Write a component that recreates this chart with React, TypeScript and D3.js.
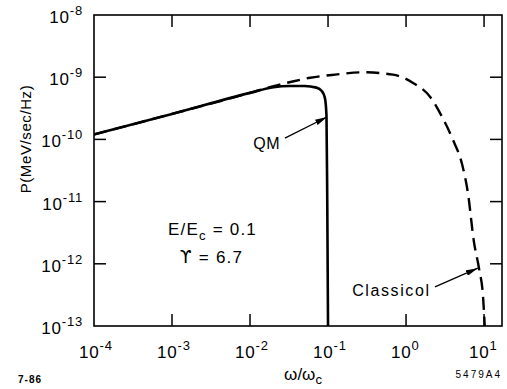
import React from 'react'
import * as d3 from 'd3'

// QM spectrum (solid)
const qmOmega = [1e-4, 1e-3, 1e-2, 0.02, 0.032, 0.05, 0.071, 0.083, 0.091, 0.0955, 0.0977, 0.1]
const qmPower = [1.2e-10, 2.57e-10, 5.6e-10, 6.9e-10, 7.2e-10, 7.2e-10, 6.8e-10, 6.0e-10, 4.7e-10, 2.45e-10, 1.07e-11, 1e-13]

// Classical spectrum (dashed)
const clOmega = [1e-4, 1e-3, 1e-2, 0.02, 0.032, 0.059, 0.123, 0.28, 0.68, 1.23, 2.04, 2.95, 4.0, 5.25, 6.2, 7.4, 8.6, 9.7, 10.2]
const clPower = [1.2e-10, 2.57e-10, 5.6e-10, 7.2e-10, 8.3e-10, 9.8e-10, 1.1e-9, 1.2e-9, 1.1e-9, 8.1e-10, 4.8e-10, 2.2e-10, 9.8e-11, 3.9e-11, 1.4e-11, 2.3e-12, 8.5e-13, 3.0e-13, 1.0e-13]

// decade ticks
const xTickExp = [-4, -3, -2, -1, 0, 1]
const yTickExp = [-8, -9, -10, -11, -12, -13]

const W = 507
const H = 389
const left = 94
const right = 502
const top = 15
const bottom = 326

const font = '"Liberation Sans", Arial, sans-serif'

const App: React.FC = () => {
  const x = d3.scaleLog().domain([1e-4, Math.pow(10, 1.23)]).range([left, right])
  const y = d3.scaleLog().domain([1e-13, 1e-8]).range([bottom, top])

  const line = d3.line<[number, number]>()
    .x(d => x(d[0]))
    .y(d => y(d[1]))
    .curve(d3.curveMonotoneX)

  const qmPath = line(qmOmega.map((w, i) => [w, qmPower[i]] as [number, number])) || ''
  const clPath = line(clOmega.map((w, i) => [w, clPower[i]] as [number, number])) || ''

  const tick = 12

  return (
    <svg width={W} height={H} style={{ position: 'absolute', left: 0, top: 0, background: '#fff' }} fontFamily={font}>
      <defs>
        <clipPath id="plot">
          <rect x={left} y={top} width={right - left} height={bottom - top} />
        </clipPath>
        <marker id="head" viewBox="0 0 12 6" refX="12" refY="3" markerWidth="12" markerHeight="6"
          markerUnits="userSpaceOnUse" orient="auto">
          <path d="M0,0 L12,3 L0,6 Z" fill="#000" />
        </marker>
      </defs>

      {/* frame */}
      <rect x={left} y={top} width={right - left} height={bottom - top} fill="none" stroke="#000" strokeWidth={1.6} />

      {/* x ticks top and bottom */}
      {xTickExp.filter(e => e > -4).map(e => {
        const px = x(Math.pow(10, e))
        return (
          <g key={'xt' + e}>
            <line x1={px} x2={px} y1={bottom} y2={bottom - tick} stroke="#000" strokeWidth={1.5} />
            <line x1={px} x2={px} y1={top} y2={top + tick} stroke="#000" strokeWidth={1.5} />
          </g>
        )
      })}

      {/* y ticks left and right */}
      {yTickExp.filter(e => e < -8 && e > -13).map(e => {
        const py = y(Math.pow(10, e))
        return (
          <g key={'yt' + e}>
            <line x1={left} x2={left + tick} y1={py} y2={py} stroke="#000" strokeWidth={1.5} />
            <line x1={right} x2={right - tick} y1={py} y2={py} stroke="#000" strokeWidth={1.5} />
          </g>
        )
      })}

      {/* x tick labels */}
      {xTickExp.map(e => (
        <text key={'xl' + e} x={x(Math.pow(10, e)) - 15} y={358} fontSize={17} letterSpacing={0.8} fill="#000">
          10<tspan dy={-8} fontSize={13}>{e < 0 ? '-' + Math.abs(e) : String(e)}</tspan>
        </text>
      ))}

      {/* y tick labels */}
      {yTickExp.map(e => (
        <text key={'yl' + e} x={83} y={y(Math.pow(10, e)) + 8} fontSize={17} letterSpacing={0.8} fill="#000" textAnchor="end">
          10<tspan dy={-8} fontSize={13}>{'-' + Math.abs(e)}</tspan>
        </text>
      ))}

      {/* curves */}
      <g clipPath="url(#plot)">
        <path d={clPath} fill="none" stroke="#000" strokeWidth={2.4} strokeDasharray="13 7" />
        <path d={qmPath} fill="none" stroke="#000" strokeWidth={2.6} />
      </g>

      {/* annotations */}
      <text x={x(0.011)} y={y(Math.pow(10, -10.06)) + 6} fontSize={16} letterSpacing={0.5} fill="#000">QM</text>
      <line x1={x(0.028)} y1={y(Math.pow(10, -9.98))} x2={x(0.097)} y2={y(Math.pow(10, -9.64))}
        stroke="#000" strokeWidth={1.3} markerEnd="url(#head)" />

      <text x={x(0.204)} y={y(Math.pow(10, -12.42)) + 6} fontSize={16} letterSpacing={1.6} fill="#000">Classicol</text>
      <line x1={x(2.35)} y1={y(Math.pow(10, -12.37))} x2={x(8.3)} y2={y(Math.pow(10, -12.07))}
        stroke="#000" strokeWidth={1.3} markerEnd="url(#head)" />

      <text x={x(0.00089)} y={y(Math.pow(10, -11.54))} fontSize={17} letterSpacing={1.2} fill="#000">
        E/E<tspan dy={5} fontSize={13}>c</tspan><tspan dy={-5}> = 0.1</tspan>
      </text>
      <text x={x(0.00126)} y={y(Math.pow(10, -11.99))} fontSize={17} letterSpacing={1.2} fill="#000">
        <tspan fontFamily='"DejaVu Sans", sans-serif'>ϒ</tspan> = 6.7
      </text>

      {/* axis titles */}
      <text transform={`translate(31,139) rotate(-90)`} textAnchor="middle" fontSize={15} letterSpacing={0.6} fill="#000">
        P(MeV/sec/Hz)
      </text>
      <text x={303} y={380} textAnchor="middle" fontSize={17} fill="#000">
        ω/ω<tspan dy={4} fontSize={13}>c</tspan>
      </text>

      <text x={18} y={383} fontSize={10} fontWeight="bold" letterSpacing={1} fill="#000">7-86</text>
      <text x={502} y={378} fontSize={10} textAnchor="end" letterSpacing={2} fill="#000">5479A4</text>
    </svg>
  )
}

export default App
